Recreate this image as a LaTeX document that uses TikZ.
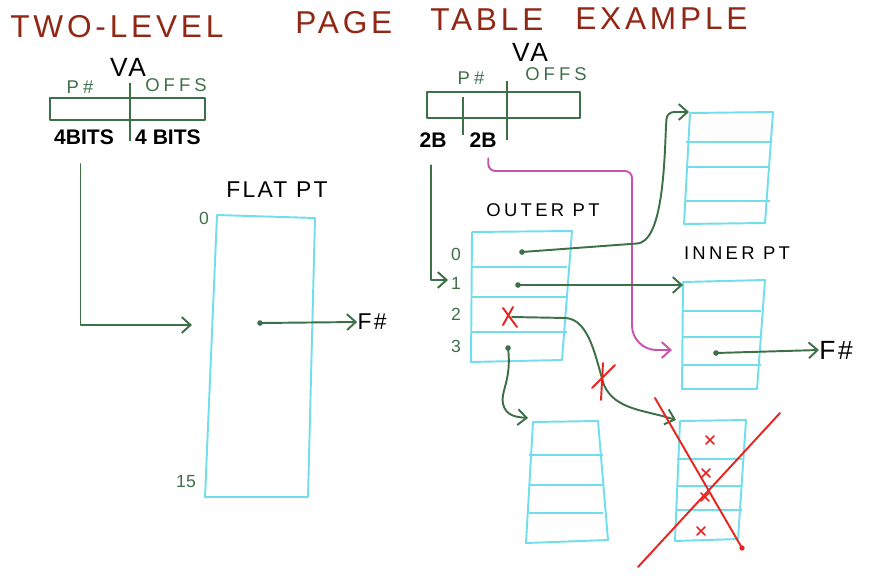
\documentclass[tikz,border=0pt]{standalone}
\usepackage{fontspec}
\setmainfont{Liberation Sans}
\usetikzlibrary{arrows.meta, positioning, calc}
\definecolor{TitleRed}{RGB}{145,40,22}
\definecolor{PenGreen}{RGB}{62,112,72}
\definecolor{PenCyan}{RGB}{112,222,236}
\definecolor{PenPink}{RGB}{200,82,172}
\definecolor{PenRed}{RGB}{232,36,30}

\tikzset{
  wire/.style={PenGreen, line width=1.1pt, line cap=round, line join=round},
  pinkwire/.style={PenPink, line width=1.1pt, line cap=round},
  field/.style={PenGreen, line width=1.1pt, line join=round},
  ptab/.style={PenCyan, line width=1.1pt, line join=round},
  cross/.style={PenRed, line width=1.1pt, line cap=round},
  title/.style={TitleRed, inner sep=0pt, anchor=west,
    font=\fontsize{18}{18}\selectfont\addfontfeature{LetterSpace=12}},
  head/.style={inner sep=0pt, font=\fontsize{15}{15}\selectfont\addfontfeature{LetterSpace=10}},
  caption/.style={inner sep=0pt, font=\fontsize{13}{13}\selectfont\addfontfeature{LetterSpace=10}},
  small/.style={inner sep=0pt, font=\fontsize{10.5}{10.5}\selectfont\addfontfeature{LetterSpace=18}},
  bits/.style={inner sep=0pt, font=\fontsize{12}{12}\selectfont\bfseries},
  fieldtxt/.style={PenGreen, inner sep=0pt, font=\fontsize{10.5}{10.5}\selectfont\addfontfeature{LetterSpace=22}},
  idx/.style={PenGreen, inner sep=0pt, font=\fontsize{10}{10}\selectfont}
}

\begin{document}
\begin{tikzpicture}[x=0.02cm, y=-0.02cm, >={Straight Barb[length=5pt, width=9pt]}]
  \useasboundingbox (0,0) rectangle (878,585);
  % Title
  \node[title] (twolevel) at (10,27) {TWO-LEVEL};
  \node[title] (page) at (295,23) {PAGE};
  \node[title] (table) at (430,20) {TABLE};
  \node[title] (example) at (575,19) {EXAMPLE};

  % Flat VA
  \node[head] (vaL) at (128,67) {VA};
  \node[fieldtxt] (pnL) at (80,87) {P\#};
  \node[fieldtxt] (offL) at (176,85) {OFFS};
  \draw[field] (50,98) rectangle (205,120);
  \draw[field] (130,83) -- (130,141);
  \node[bits] (bitsL1) at (84,137) {4BITS};
  \node[bits] (bitsL2) at (168,137) {4 BITS};

  % Flat page table
  \node[caption] (flatlbl) at (277,190) {FLAT PT};
  \draw[ptab] (217,215) -- (315,218) -- (308,497) -- (205,497) -- cycle;
  \node[idx] (f0) at (204,218) {0};
  \node[idx] (f15) at (186,482) {15};
  \coordinate (flatin) at (192,325);
  \coordinate (fdot) at (260,323);
  \node[caption] (fnL) at (372,322) {F\#};
  \draw[wire, ->] ([xshift=-2pt, yshift=-11pt]bitsL1.south) |- (flatin);
  \draw[wire, ->] (fdot) -- (fnL.west);
  \fill[PenGreen] (fdot) circle (1.6pt);

  % Two-level VA
  \node[head] (vaR) at (530,52) {VA};
  \node[fieldtxt] (pnR) at (471,78) {P\#};
  \node[fieldtxt] (offR) at (556,74) {OFFS};
  \draw[field] (427,92) rectangle (580,118);
  \draw[field] (463,97) -- (463,135);
  \draw[field] (507,81) -- (507,140);
  \node[bits] (bitsR1) at (433,140) {2B};
  \node[bits] (bitsR2) at (483,140) {2B};

  % Outer page table
  \node[small] (outerlbl) at (543,210) {OUTER PT};
  \draw[ptab] (472,232) -- (572,231) -- (562,360) -- (471,362) -- cycle;
  \foreach \y in {267, 297, 332}
    \draw[ptab] (471,\y) -- (567,\y);
  \foreach \i/\y in {0/254, 1/283, 2/314, 3/346}
    \node[idx] (olbl\i) at (456,\y) {\i};
  \coordinate (o0) at (522,252);
  \coordinate (o1) at (518,285);
  \coordinate (o2) at (512,317);
  \coordinate (o3) at (508,348);
  \coordinate (outerin) at (448,280);
  \draw[wire, ->] ([xshift=-1pt, yshift=-10pt]bitsR1.south) |- (outerin);

  % Inner page tables
  \draw[ptab] (690,113) -- (773,112) -- (765,223) -- (684,224) -- cycle;
  \foreach \y in {142, 167, 201}
    \draw[ptab] (686,\y) -- (770,\y);
  \node[small] (innerlbl) at (737,253) {INNER PT};
  \draw[ptab] (683,282) -- (765,280) -- (757,389) -- (682,389) -- cycle;
  \foreach \y in {311, 337, 365}
    \draw[ptab] (682,\y) -- (761,\y);
  \draw[ptab] (533,422) -- (598,421) -- (608,540) -- (526,543) -- cycle;
  \foreach \y in {455, 485, 513}
    \draw[ptab] (529,\y) -- (603,\y);
  \draw[ptab] (680,421) -- (746,420) -- (738,539) -- (675,541) -- cycle;
  \foreach \y in {459, 486, 510}
    \draw[ptab] (677,\y) -- (742,\y);
  \coordinate (inA) at (689,112);
  \coordinate (inB) at (683,285);
  \coordinate (inC) at (528,418);
  \coordinate (inD) at (676,420);
  \coordinate (inPink) at (672,350);
  \coordinate (idot) at (716,353);
  \node[head] (fnR) at (836,350) {F\#};

  % Walks
  \draw[pinkwire, ->] ([xshift=3pt, yshift=-6pt]bitsR2.south)
    [rounded corners=4pt] |- (632,171) [rounded corners=14pt] |- (inPink);
  \draw[wire, ->, rounded corners=4pt] (o0) -- (630,244) .. controls (660,242) and (664,180) .. (666,125) -- (667,112) -- (inA);
  \draw[wire, ->] (o1) -- (inB);
  \draw[wire, ->] (o2) -- (566,318) .. controls (590,320) and (596,360) .. (604,385)
    .. controls (615,410) and (645,410) .. (inD);
  \draw[wire, ->] (o3) .. controls (512,380) and (500,392) .. (503,404)
    .. controls (506,416) and (516,417) .. (inC);
  \draw[wire, ->] (idot) -- (fnR.west);
  \foreach \p in {o0, o1, o3, idot}
    \fill[PenGreen] (\p) circle (1.6pt);

  % Invalid entries
  \draw[cross] (503,308) -- (517,327) (513,307) -- (503,325);
  \draw[cross] (592,388) -- (615,365) (603,363) -- (601,400);
  \draw[cross] (655,398) -- (742,548);
  \fill[PenRed] (742,548) circle (1.5pt);
  \draw[cross] (638,567) -- (780,413);
  \foreach \x/\y in {710/440, 706/473, 705/497, 701/531}
    \draw[cross, line width=0.9pt] (\x-4,\y-4) -- (\x+4,\y+4) (\x+4,\y-4) -- (\x-4,\y+4);
\end{tikzpicture}
\end{document}
